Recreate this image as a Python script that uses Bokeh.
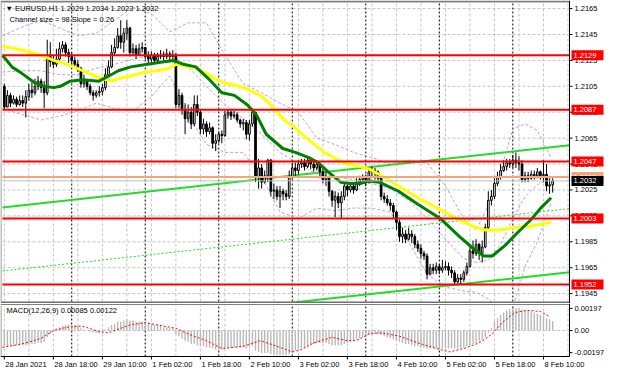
from bokeh.plotting import figure
from bokeh.layouts import column
from bokeh.models import Range1d, ColumnDataSource
from bokeh.core.properties import value
from bokeh.embed import file_html
from bokeh.resources import INLINE

# ---------------- data (EURUSD H1, bar index 0 = 28 Jan 2021 02:00) ----------------
first_open = 1.2105
close = [1.2089, 1.2098, 1.2092, 1.2095, 1.2091, 1.2094, 1.2092, 1.2097, 1.2102, 1.2100,
         1.2105, 1.2109, 1.2104, 1.2100, 1.2128, 1.2124, 1.2122, 1.2126, 1.2134, 1.2137,
         1.2131, 1.2128, 1.2125, 1.2122, 1.2119, 1.2107, 1.2109, 1.2105, 1.2100, 1.2098,
         1.2100, 1.2101, 1.2104, 1.2114, 1.2120, 1.2131, 1.2135, 1.2144, 1.2139, 1.2146,
         1.2150, 1.2131, 1.2134, 1.2129, 1.2134, 1.2135, 1.2128, 1.2126, 1.2129, 1.2125,
         1.2128, 1.2129, 1.2128, 1.2130, 1.2128, 1.2129, 1.2091, 1.2098, 1.2087, 1.2080,
         1.2085, 1.2076, 1.2091, 1.2085, 1.2072, 1.2076, 1.2070, 1.2073, 1.2061, 1.2063,
         1.2068, 1.2067, 1.2083, 1.2085, 1.2082, 1.2083, 1.2079, 1.2076, 1.2077, 1.2068,
         1.2076, 1.2085, 1.2035, 1.2042, 1.2031, 1.2036, 1.2048, 1.2024, 1.2025, 1.2020,
         1.2024, 1.2022, 1.2020, 1.2035, 1.2042, 1.2040, 1.2045, 1.2046, 1.2043, 1.2048,
         1.2045, 1.2042, 1.2045, 1.2039, 1.2033, 1.2035, 1.2024, 1.2017, 1.2020, 1.2015,
         1.2020, 1.2028, 1.2025, 1.2028, 1.2025, 1.2031, 1.2033, 1.2035, 1.2031, 1.2039,
         1.2040, 1.2039, 1.2034, 1.2020, 1.2018, 1.2015, 1.2013, 1.2008, 1.2000, 1.1989,
         1.1991, 1.1987, 1.1991, 1.1989, 1.1983, 1.1980, 1.1976, 1.1974, 1.1960, 1.1965,
         1.1963, 1.1966, 1.1963, 1.1965, 1.1966, 1.1963, 1.1961, 1.1954, 1.1957, 1.1956,
         1.1961, 1.1966, 1.1978, 1.1976, 1.1983, 1.1976, 1.1981, 1.1996, 1.2017, 1.2020,
         1.2030, 1.2035, 1.2040, 1.2043, 1.2046, 1.2045, 1.2048, 1.2046, 1.2045, 1.2033,
         1.2036, 1.2034, 1.2037, 1.2036, 1.2039, 1.2036, 1.2037, 1.2028, 1.2029, 1.2032]
high = [1.2107, 1.2102, 1.2100, 1.2098, 1.2097, 1.2098, 1.2098, 1.2102, 1.2107, 1.2108,
        1.2111, 1.2113, 1.2111, 1.2109, 1.2141, 1.2139, 1.2129, 1.2134, 1.2139, 1.2140,
        1.2139, 1.2134, 1.2131, 1.2128, 1.2125, 1.2120, 1.2114, 1.2110, 1.2107, 1.2102,
        1.2102, 1.2105, 1.2107, 1.2119, 1.2125, 1.2137, 1.2142, 1.2150, 1.2156, 1.2150,
        1.2156, 1.2151, 1.2138, 1.2137, 1.2138, 1.2139, 1.2135, 1.2132, 1.2132, 1.2131,
        1.2131, 1.2133, 1.2132, 1.2134, 1.2132, 1.2133, 1.2131, 1.2103, 1.2100, 1.2092,
        1.2091, 1.2089, 1.2098, 1.2098, 1.2087, 1.2080, 1.2078, 1.2077, 1.2074, 1.2068,
        1.2070, 1.2071, 1.2086, 1.2087, 1.2087, 1.2086, 1.2085, 1.2080, 1.2080, 1.2079,
        1.2079, 1.2088, 1.2085, 1.2049, 1.2045, 1.2040, 1.2049, 1.2049, 1.2030, 1.2028,
        1.2028, 1.2026, 1.2025, 1.2040, 1.2046, 1.2046, 1.2048, 1.2049, 1.2049, 1.2050,
        1.2049, 1.2048, 1.2048, 1.2046, 1.2042, 1.2039, 1.2036, 1.2025, 1.2024, 1.2023,
        1.2024, 1.2031, 1.2031, 1.2030, 1.2030, 1.2034, 1.2036, 1.2037, 1.2037, 1.2042,
        1.2043, 1.2042, 1.2040, 1.2036, 1.2023, 1.2021, 1.2018, 1.2015, 1.2009, 1.2002,
        1.1996, 1.1994, 1.1996, 1.1994, 1.1991, 1.1986, 1.1983, 1.1978, 1.1976, 1.1968,
        1.1968, 1.1969, 1.1968, 1.1971, 1.1970, 1.1969, 1.1966, 1.1963, 1.1960, 1.1960,
        1.1963, 1.1969, 1.1981, 1.1986, 1.1987, 1.1984, 1.1986, 1.1999, 1.2024, 1.2025,
        1.2034, 1.2039, 1.2045, 1.2048, 1.2049, 1.2049, 1.2052, 1.2054, 1.2051, 1.2048,
        1.2039, 1.2039, 1.2040, 1.2040, 1.2042, 1.2040, 1.2048, 1.2045, 1.2034, 1.2034]
low = [1.2087, 1.2089, 1.2089, 1.2091, 1.2089, 1.2090, 1.2089, 1.2081, 1.2094, 1.2096,
       1.2098, 1.2102, 1.2100, 1.2088, 1.2098, 1.2120, 1.2119, 1.2120, 1.2125, 1.2131,
       1.2128, 1.2123, 1.2122, 1.2119, 1.2116, 1.2104, 1.2104, 1.2102, 1.2098, 1.2094,
       1.2096, 1.2097, 1.2098, 1.2102, 1.2113, 1.2119, 1.2129, 1.2134, 1.2134, 1.2131,
       1.2141, 1.2128, 1.2129, 1.2126, 1.2129, 1.2131, 1.2126, 1.2122, 1.2123, 1.2122,
       1.2123, 1.2126, 1.2125, 1.2126, 1.2125, 1.2126, 1.2088, 1.2088, 1.2083, 1.2068,
       1.2077, 1.2072, 1.2074, 1.2082, 1.2068, 1.2068, 1.2066, 1.2068, 1.2057, 1.2055,
       1.2061, 1.2061, 1.2066, 1.2080, 1.2079, 1.2080, 1.2077, 1.2073, 1.2071, 1.2064,
       1.2063, 1.2074, 1.2031, 1.2026, 1.2026, 1.2030, 1.2031, 1.2020, 1.2018, 1.2017,
       1.2011, 1.2017, 1.2017, 1.2018, 1.2033, 1.2036, 1.2037, 1.2042, 1.2040, 1.2042,
       1.2041, 1.2039, 1.2040, 1.2034, 1.2030, 1.2028, 1.2020, 1.2012, 1.2004, 1.2011,
       1.2003, 1.2017, 1.2020, 1.2023, 1.2022, 1.2024, 1.2028, 1.2030, 1.2028, 1.2030,
       1.2035, 1.2033, 1.2031, 1.2017, 1.2015, 1.2013, 1.2009, 1.2003, 1.1994, 1.1985,
       1.1984, 1.1984, 1.1986, 1.1984, 1.1980, 1.1977, 1.1972, 1.1971, 1.1956, 1.1959,
       1.1960, 1.1960, 1.1960, 1.1961, 1.1963, 1.1959, 1.1957, 1.1952, 1.1953, 1.1952,
       1.1954, 1.1959, 1.1965, 1.1972, 1.1974, 1.1971, 1.1969, 1.1980, 1.1994, 1.2013,
       1.2018, 1.2028, 1.2033, 1.2039, 1.2040, 1.2042, 1.2042, 1.2042, 1.2040, 1.2031,
       1.2031, 1.2031, 1.2033, 1.2033, 1.2034, 1.2033, 1.2031, 1.2024, 1.2022, 1.2023]

# moving averages: (bar index, price)
ma_fast_x = [-0.6, 2.5, 5.7, 9.8, 12.9, 16.1, 18.3, 21.5, 25.6, 30.9, 34.1, 37.2, 41.3, 46.7, 52.1,
             55.2, 58.4, 62.5, 66.6, 71.0, 75.1, 79.2, 82.3, 85.5, 90.9, 95.0, 99.4, 102.5, 105.7,
             109.8, 112.9, 116.1, 119.2, 122.4, 128.7, 135.0, 142.3, 148.6, 153.0, 156.5, 159.3,
             163.4, 167.5, 171.9, 175.1, 178.5]
ma_fast_y = [1.2129, 1.2120, 1.2115, 1.2108, 1.2105, 1.2104, 1.2105, 1.2109, 1.2110, 1.2109,
             1.2113, 1.2117, 1.2120, 1.2122, 1.2124, 1.2125, 1.2122, 1.2120, 1.2111, 1.2100,
             1.2098, 1.2091, 1.2083, 1.2068, 1.2057, 1.2054, 1.2050, 1.2046, 1.2039, 1.2031,
             1.2030, 1.2030, 1.2032, 1.2031, 1.2024, 1.2014, 1.2003, 1.1989, 1.1980, 1.1974,
             1.1974, 1.1982, 1.1992, 1.2002, 1.2011, 1.2019]
ma_slow_x = [-0.6, 5.7, 12.0, 16.1, 20.5, 24.6, 28.7, 31.9, 35.0, 37.2, 41.3, 45.7, 49.8, 53.9,
             56.2, 60.3, 62.5, 68.8, 72.6, 75.1, 79.2, 83.6, 86.8, 91.8, 94.0, 98.1, 104.4, 110.7,
             116.1, 119.2, 122.4, 128.7, 135.0, 141.3, 147.6, 153.9, 157.1, 161.2, 166.6, 171.9,
             178.5]
ma_slow_y = [1.2136, 1.2133, 1.2129, 1.2125, 1.2122, 1.2118, 1.2114, 1.2111, 1.2109, 1.2111,
             1.2113, 1.2116, 1.2117, 1.2119, 1.2122, 1.2120, 1.2119, 1.2111, 1.2107, 1.2106,
             1.2103, 1.2098, 1.2091, 1.2078, 1.2075, 1.2066, 1.2054, 1.2046, 1.2043, 1.2041,
             1.2037, 1.2028, 1.2019, 1.2011, 1.2003, 1.1996, 1.1994, 1.1994, 1.1996, 1.1997,
             1.2000]

# Bollinger bands (dashed)
bb_x = [-0.6, 6, 12, 18, 24, 30, 36, 42, 48, 54, 60, 66, 72, 78, 84, 90, 96, 102, 108, 114, 120,
        126, 132, 138, 144, 150, 154, 158, 162, 166, 170, 174, 178.5]
bb_up = [1.2144, 1.2151, 1.2156, 1.2150, 1.2144, 1.2146, 1.2156, 1.2166, 1.2161, 1.2147, 1.2154,
         1.2154, 1.2129, 1.2107, 1.2100, 1.2092, 1.2085, 1.2065, 1.2060, 1.2054, 1.2050, 1.2045,
         1.2048, 1.2046, 1.2028, 1.2003, 1.1994, 1.2013, 1.2040, 1.2072, 1.2076, 1.2071, 1.2050]
bb_mid = [1.2116, 1.2117, 1.2117, 1.2114, 1.2114, 1.2119, 1.2122, 1.2126, 1.2129, 1.2131, 1.2120,
          1.2105, 1.2091, 1.2080, 1.2068, 1.2054, 1.2045, 1.2037, 1.2035, 1.2033, 1.2030, 1.2026,
          1.2017, 1.2003, 1.1987, 1.1972, 1.1969, 1.1971, 1.1983, 1.2003, 1.2020, 1.2029, 1.2034]
bb_lo = [1.2088, 1.2083, 1.2079, 1.2082, 1.2086, 1.2092, 1.2088, 1.2086, 1.2097, 1.2113, 1.2083,
         1.2060, 1.2054, 1.2054, 1.2035, 1.2008, 1.2003, 1.2011, 1.2009, 1.2011, 1.2011, 1.2008,
         1.1985, 1.1960, 1.1950, 1.1947, 1.1946, 1.1941, 1.1932, 1.1934, 1.1966, 1.1985, 1.2015]

# horizontal levels
red_levels = [1.2129, 1.2087, 1.2047, 1.2003, 1.1952]
orange_level = 1.2035
bid = 1.2032

# regression channel
ch_start = 1.20116       # upper line at bar 0
ch_slope = 0.000026      # per bar (0.26 pips)
ch_size = 0.0098         # 98 pips

# MACD(12,26,9)
macd = [-0.0014, -0.0014, -0.0014, -0.0014, -0.0013, -0.0013, -0.0013, -0.0013, -0.0012, -0.0012,
        -0.0012, -0.0011, -0.0011, -0.0010, -0.0006, -0.0003, -0.0001, 0.0002, 0.0003, 0.0004,
        0.0005, 0.0005, 0.0005, 0.0005, 0.0004, 0.0002, 0.0001, 0.0000, -0.0001, -0.0002,
        -0.0002, -0.0002, -0.0001, 0.0001, 0.0003, 0.0005, 0.0006, 0.0008, 0.0008, 0.0009,
        0.0010, 0.0009, 0.0009, 0.0008, 0.0008, 0.0008, 0.0007, 0.0006, 0.0006, 0.0005,
        0.0005, 0.0004, 0.0003, 0.0003, 0.0002, 0.0002, -0.0003, -0.0005, -0.0007, -0.0009,
        -0.0010, -0.0012, -0.0012, -0.0013, -0.0014, -0.0014, -0.0015, -0.0015, -0.0016, -0.0017,
        -0.0017, -0.0017, -0.0016, -0.0016, -0.0016, -0.0015, -0.0015, -0.0015, -0.0015, -0.0016,
        -0.0015, -0.0014, -0.0018, -0.0019, -0.0020, -0.0020, -0.0020, -0.0021, -0.0021, -0.0022,
        -0.0022, -0.0022, -0.0022, -0.0021, -0.0019, -0.0018, -0.0017, -0.0016, -0.0015, -0.0014,
        -0.0013, -0.0012, -0.0011, -0.0011, -0.0011, -0.0011, -0.0012, -0.0013, -0.0013, -0.0013,
        -0.0013, -0.0012, -0.0011, -0.0010, -0.0009, -0.0008, -0.0007, -0.0006, -0.0005, -0.0004,
        -0.0003, -0.0003, -0.0003, -0.0004, -0.0005, -0.0006, -0.0007, -0.0008, -0.0009, -0.0010,
        -0.0011, -0.0012, -0.0012, -0.0013, -0.0014, -0.0014, -0.0015, -0.0015, -0.0016, -0.0016,
        -0.0016, -0.0016, -0.0016, -0.0016, -0.0016, -0.0016, -0.0016, -0.0016, -0.0016, -0.0016,
        -0.0015, -0.0014, -0.0013, -0.0012, -0.0011, -0.0010, -0.0008, -0.0006, -0.0002, 0.0002,
        0.0008, 0.0011, 0.0014, 0.0016, 0.0018, 0.0019, 0.0020, 0.0020, 0.0020, 0.0019,
        0.0018, 0.0018, 0.0017, 0.0016, 0.0015, 0.0014, 0.0013, 0.0011, 0.0010, 0.00085]
signal_x = [-0.6, 5.7, 12, 16, 20.5, 25.5, 31, 34, 37, 41, 46, 52, 56, 60, 66, 71, 78, 81.4, 83.6,
            88, 94, 97, 101, 107, 112, 115, 119, 123, 129, 135, 141, 145.4, 150, 155, 159.3,
            162.5, 166.6, 170.7, 175, 178.2]
signal_y = [-0.0015, -0.0012, -0.0007, 0.0000, 0.0003, 0.0004, -0.0001, -0.0002, 0.0001, 0.0005,
            0.0007, 0.0004, 0.0002, -0.0003, -0.0009, -0.0016, -0.0014, -0.0011, -0.0009, -0.0013,
            -0.0019, -0.0017, -0.0011, -0.0006, -0.0009, -0.0009, -0.0003, -0.0002, -0.0005,
            -0.0011, -0.0016, -0.0019, -0.0016, -0.0011, -0.0003, 0.0007, 0.0016, 0.0018, 0.0017,
            0.00122]

# time axis
day_starts = [22, 46, 70, 94, 118, 142, 166]
time_ticks = [0, 16, 32, 48, 64, 80, 96, 112, 128, 144, 160, 176]
time_labels = ["28 Jan 2021", "28 Jan 18:00", "29 Jan 10:00", "1 Feb 02:00", "1 Feb 18:00",
               "2 Feb 10:00", "3 Feb 02:00", "3 Feb 18:00", "4 Feb 10:00", "5 Feb 02:00",
               "5 Feb 18:00", "8 Feb 10:00"]
price_ticks = [1.1945, 1.1965, 1.1985, 1.2005, 1.2025, 1.2045, 1.2065, 1.2085, 1.2105, 1.2125,
               1.2145, 1.2165]
macd_ticks = [-0.00197, 0.0, 0.00197]
macd_tick_labels = ["-0.00197", "0.00", "0.00197"]

# ---------------- geometry ----------------
FONT = value("Liberation Sans")
FS = value("7.5px")
W = 604
X0, X1 = -0.6, 184.5            # chart area in bars
CHART_W = 567                   # px, chart area width (starts 2px from left)
ppx = CHART_W / (X1 - X0)       # px per bar
XR = Range1d(X0 - 2 / ppx, X1 + (W - 2 - CHART_W) / ppx)

Y0, Y1 = 1.19389, 1.21697
FH1 = 299
py = (Y1 - Y0) / FH1
M0, M1 = -0.00231, 0.00223
FH2 = 51
pm = (M1 - M0) / FH2
GRID = "#c4c4c4"
GREEN_CH = "#22dd22"
PURPLE = "#c39be3"

n = len(close)
idx = list(range(n))
opens = [first_open] + close[:-1]
src = ColumnDataSource(dict(
    x=idx, h=high, l=low,
    top=[max(o, c) for o, c in zip(opens, close)],
    bot=[min(o, c) for o, c in zip(opens, close)],
    fill=["white" if c >= o else "black" for o, c in zip(opens, close)]))


def base_fig(height, yr):
    f = figure(width=W, height=height, x_range=XR, y_range=yr, x_axis_location=None,
               y_axis_location=None, output_backend="svg", toolbar_location=None,
               min_border=0)
    f.grid.visible = False
    f.outline_line_color = None
    f.background_fill_color = "white"
    f.border_fill_color = "white"
    return f


def txt(f, x, y, s, color="black", align="left", baseline="middle", dx=0):
    f.text(x=[x], y=[y], text=[s], text_font=FONT, text_font_size=FS, text_color=color,
           text_align=align, text_baseline=baseline, x_offset=dx)


# ================= main pane =================
p1 = base_fig(FH1 + 4, Range1d(Y0 - 2 * py, Y1 + 2 * py))

vg = list(range(0, 185, 8))
p1.segment(x0=vg, y0=[Y0] * len(vg), x1=vg, y1=[Y1] * len(vg), line_color=GRID,
           line_dash="3 2", line_width=1)
p1.segment(x0=[X0] * len(price_ticks), y0=price_ticks, x1=[X1] * len(price_ticks),
           y1=price_ticks, line_color=GRID, line_dash="3 2", line_width=1)
p1.segment(x0=day_starts, y0=[Y0] * 7, x1=day_starts, y1=[Y1] * 7, line_color="black",
           line_dash="2 2", line_width=1)

# regression channel
cx = [X0, X1]
up_line = [ch_start + ch_slope * x for x in cx]
p1.line(cx, up_line, line_color=GREEN_CH, line_width=2)
p1.line(cx, [v - ch_size / 2 for v in up_line], line_color=GREEN_CH, line_width=1,
        line_dash="2 2")
p1.line(cx, [v - ch_size for v in up_line], line_color=GREEN_CH, line_width=2)

# bollinger bands
for band in (bb_up, bb_mid, bb_lo):
    p1.line(bb_x, band, line_color=PURPLE, line_width=1, line_dash="3 2")

# candles
p1.segment(x0="x", y0="h", x1="x", y1="l", source=src, line_color="black", line_width=1)
p1.vbar(x="x", width=0.55, top="top", bottom="bot", source=src, fill_color="fill",
        line_color="black", line_width=1)

# moving averages
p1.line(ma_slow_x, ma_slow_y, line_color="#ffff00", line_width=3)
p1.line(ma_fast_x, ma_fast_y, line_color="#008000", line_width=3)

# levels
p1.segment(x0=[X0], y0=[orange_level], x1=[X1], y1=[orange_level], line_color="#f4a57a",
           line_width=2)
p1.segment(x0=[X0], y0=[bid], x1=[X1], y1=[bid], line_color="#c0c0c0", line_width=1)
p1.segment(x0=[X0] * 5, y0=red_levels, x1=[X1] * 5, y1=red_levels, line_color="#ff0000",
           line_width=2)

# frame
p1.segment(x0=[X0 - 2 / ppx], y0=[Y1 + 1 * py], x1=[X1], y1=[Y1 + 1 * py],
           line_color="#808080", line_width=2)
p1.segment(x0=[X0 - 2 / ppx], y0=[Y0 - 1 * py], x1=[X1], y1=[Y0 - 1 * py],
           line_color="#707070", line_width=2)
p1.segment(x0=[X0 - 1.5 / ppx], y0=[Y0], x1=[X0 - 1.5 / ppx], y1=[Y1], line_color="#808080",
           line_width=1)
p1.segment(x0=[X1], y0=[Y0 - 2 * py], x1=[X1], y1=[Y1 + 2 * py], line_color="black",
           line_width=1)

# price axis
p1.segment(x0=[X1] * 12, y0=price_ticks, x1=[X1 + 3 / ppx] * 12, y1=price_ticks,
           line_color="black", line_width=1)
for t in price_ticks:
    txt(p1, X1 + 5 / ppx, t, f"{t:.4f}")


def side_label(f, y, s, bg, h):
    f.rect(x=[X1 + 18 / ppx], y=[y], width=32 / ppx, height=10 * h, fill_color=bg,
           line_color=None)
    txt(f, X1 + 4 / ppx, y, s, color="white")


for lv in red_levels:
    side_label(p1, lv, f"{lv:.4f}", "#ff0000", py)
side_label(p1, orange_level, f"{orange_level:.4f}", "#f4a57a", py)
side_label(p1, bid, f"{bid:.4f}", "black", py)

# header texts
txt(p1, X0, Y1 - 5.5 * py, "\u25bc EURUSD,H1  1.2029 1.2034 1.2023 1.2032", dx=3)
txt(p1, X0, Y1 - 16.5 * py, "Channel size = 98 Slope = 0.26", dx=7)

# ================= MACD pane =================
p2 = base_fig(FH2 + 2 + 16, Range1d(M0 - 16 * pm, M1 + 2 * pm))
p2.segment(x0=vg, y0=[M0] * len(vg), x1=vg, y1=[M1] * len(vg), line_color=GRID,
           line_dash="3 2", line_width=1)
p2.segment(x0=[X0], y0=[0.0], x1=[X1], y1=[0.0], line_color=GRID, line_dash="3 2", line_width=1)
p2.segment(x0=day_starts, y0=[M0] * 7, x1=day_starts, y1=[M1] * 7, line_color="black",
           line_dash="2 2", line_width=1)

p2.vbar(x=idx, width=0.45, top=macd, bottom=0, fill_color="#b8b8b8", line_color=None)
p2.line(signal_x, signal_y, line_color="#ff0000", line_width=1, line_dash="2 2")

# frame
p2.segment(x0=[X0 - 2 / ppx], y0=[M1 + 1 * pm], x1=[X1], y1=[M1 + 1 * pm],
           line_color="#808080", line_width=1)
p2.segment(x0=[X0 - 2 / ppx], y0=[M0], x1=[X1], y1=[M0], line_color="black", line_width=1)
p2.segment(x0=[X0 - 1.5 / ppx], y0=[M0], x1=[X0 - 1.5 / ppx], y1=[M1], line_color="#808080",
           line_width=1)
p2.segment(x0=[X1], y0=[M0], x1=[X1], y1=[M1 + 2 * pm], line_color="black", line_width=1)

p2.segment(x0=[X1] * 3, y0=macd_ticks, x1=[X1 + 3 / ppx] * 3, y1=macd_ticks,
           line_color="black", line_width=1)
for t, s in zip(macd_ticks, macd_tick_labels):
    txt(p2, X1 + 5 / ppx, t, s)

# time axis
p2.segment(x0=time_ticks, y0=[M0] * len(time_ticks), x1=time_ticks,
           y1=[M0 - 3 * pm] * len(time_ticks), line_color="black", line_width=1)
for t, s in zip(time_ticks, time_labels):
    txt(p2, t, M0 - 3 * pm, s, baseline="top", dx=1)

txt(p2, X0, M1 - 5 * pm, "MACD(12,26,9) 0.00085 0.00122", dx=4)

layout = column(p1, p2, spacing=0)
open("out.html", "w").write(file_html(layout, INLINE))
